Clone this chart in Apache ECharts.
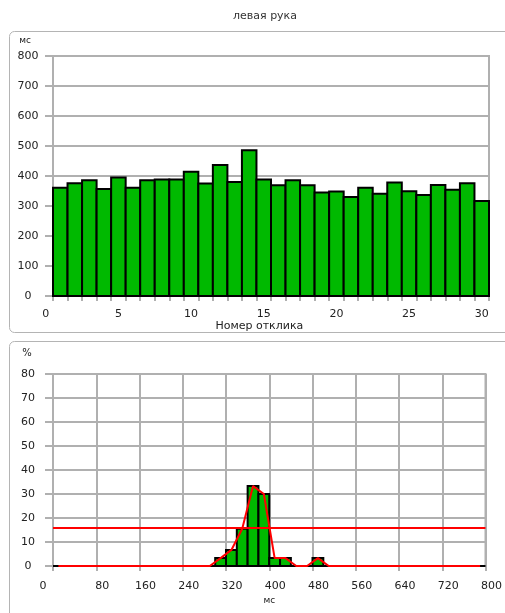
<!DOCTYPE html>
<html>
<head>
<meta charset="utf-8">
<script src="https://cdn.jsdelivr.net/npm/echarts@6/dist/echarts.min.js"></script>
<style>
html, body { margin: 0; padding: 0; background: #fff; }
#main { width: 505px; height: 613px; }
</style>
</head>
<body>
<div id="main"></div>
<script>
// номер отклика -> время реакции, мс
const responseNo = [1, 2, 3, 4, 5, 6, 7, 8, 9, 10, 11, 12, 13, 14, 15,
  16, 17, 18, 19, 20, 21, 22, 23, 24, 25, 26, 27, 28, 29, 30];
const reactionMs = [361, 376, 386, 357, 395, 361, 386, 388, 388, 414, 375, 437, 380, 486, 388,
  369, 386, 369, 345, 348, 330, 361, 341, 378, 349, 337, 370, 354, 376, 317];

// гистограмма: начало интервала (мс), ширина 20 мс, доля откликов (%)
const binStart = [0, 20, 40, 60, 80, 100, 120, 140, 160, 180, 200, 220, 240, 260, 280,
  300, 320, 340, 360, 380, 400, 420, 440, 460, 480, 500, 520, 540, 560, 580,
  600, 620, 640, 660, 680, 700, 720, 740, 760, 780];
const binPercent = [0, 0, 0, 0, 0, 0, 0, 0, 0, 0, 0, 0, 0, 0, 0,
  3.3, 6.7, 15.5, 33.3, 30, 3.3, 3.3, 0, 0, 3.3, 0, 0, 0, 0, 0,
  0, 0, 0, 0, 0, 0, 0, 0, 0, 0];
const binWidth = 20;
const halfMax = 16;

const green = '#00b900';
const gridGray = '#b0b0b0';
const font = 'DejaVu Sans';

let chart = echarts.init(document.getElementById('main'), null, { renderer: 'canvas' });

function barItem(params, api) {
  let p0 = api.coord([api.value(0) - 0.5, api.value(1)]);
  let p1 = api.coord([api.value(0) + 0.5, 0]);
  return {
    type: 'rect',
    shape: { x: p0[0], y: p0[1], width: p1[0] - p0[0], height: p1[1] - p0[1] },
    style: { fill: green, stroke: '#000', lineWidth: 2 }
  };
}

function histItem(params, api) {
  let p0 = api.coord([api.value(0), api.value(2)]);
  let p1 = api.coord([api.value(1), 0]);
  return {
    type: 'rect',
    shape: { x: p0[0], y: p0[1], width: p1[0] - p0[0], height: p1[1] - p0[1] },
    style: { fill: green, stroke: '#000', lineWidth: 2 }
  };
}

const labelStyle = { color: '#222', fontFamily: font, fontSize: 11 };

let option = {
  animation: false,
  textStyle: { fontFamily: font },
  title: {
    text: 'левая рука',
    left: 260,
    top: 6,
    textAlign: 'center',
    textStyle: { fontFamily: font, fontSize: 11, fontWeight: 'normal', color: '#333' }
  },
  graphic: [
    { type: 'rect', shape: { x: 9.5, y: 31.5, width: 520, height: 301, r: 5 },
      style: { fill: 'none', stroke: '#b4b4b4', lineWidth: 1 }, z: -1 },
    { type: 'rect', shape: { x: 9.5, y: 341.5, width: 520, height: 300, r: 5 },
      style: { fill: 'none', stroke: '#b4b4b4', lineWidth: 1 }, z: -1 }
  ],
  grid: [
    { left: 53, top: 56, width: 436, height: 240, show: true, borderColor: gridGray, borderWidth: 2 },
    { left: 45.73, top: 56, width: 443.27, height: 240 },
    { left: 53, top: 374, width: 436, height: 192, show: true, borderColor: gridGray, borderWidth: 2 }
  ],
  xAxis: [
    {
      gridIndex: 0, type: 'value', min: 0.5, max: 30.5, interval: 1,
      axisLine: { show: true, onZero: false, lineStyle: { color: gridGray, width: 2 } },
      axisTick: { show: true, length: 5, lineStyle: { color: gridGray, width: 2 } },
      axisLabel: { show: false },
      splitLine: { show: false }
    },
    {
      gridIndex: 1, type: 'value', min: 0, max: 30.5, interval: 5,
      axisLine: { show: false }, axisTick: { show: false }, splitLine: { show: false },
      axisLabel: Object.assign({ margin: 13, formatter: v => (v % 5 === 0 ? String(v) : '') }, labelStyle),
      name: 'Номер отклика', nameLocation: 'middle', nameGap: 24,
      nameTextStyle: Object.assign({ padding: [0, 16, 0, 0] }, labelStyle)
    },
    {
      gridIndex: 2, type: 'value', min: 0, max: 800, interval: 80,
      axisLine: { show: true, lineStyle: { color: gridGray, width: 2 } },
      axisTick: { show: true, length: 5, lineStyle: { color: gridGray, width: 2 } },
      splitLine: { show: true, lineStyle: { color: gridGray, width: 2 } },
      axisLabel: Object.assign({
        margin: 15,
        formatter: v => (v === 0 ? '{z|0}' : '{n|' + v + '}'),
        rich: {
          z: { padding: [0, 20, 0, 0], color: '#222', fontFamily: font, fontSize: 11 },
          n: { padding: [0, 0, 0, 12], color: '#222', fontFamily: font, fontSize: 11 }
        }
      }, labelStyle),
      name: 'мс', nameLocation: 'middle', nameGap: 30,
      nameTextStyle: { color: '#222', fontFamily: font, fontSize: 9 }
    }
  ],
  yAxis: [
    {
      gridIndex: 0, type: 'value', min: 0, max: 800, interval: 100,
      axisLine: { show: true, lineStyle: { color: gridGray, width: 2 } },
      axisTick: { show: true, length: 8, lineStyle: { color: gridGray, width: 2 } },
      splitLine: { show: true, lineStyle: { color: gridGray, width: 2 } },
      axisLabel: Object.assign({ align: 'center', margin: 25 }, labelStyle),
      name: 'мс', nameLocation: 'end', nameGap: 11,
      nameTextStyle: { color: '#222', fontFamily: font, fontSize: 9, align: 'center', padding: [0, 56, 0, 0] }
    },
    { gridIndex: 1, type: 'value', min: 0, max: 1, show: false },
    {
      gridIndex: 2, type: 'value', min: 0, max: 80, interval: 10,
      axisLine: { show: true, lineStyle: { color: gridGray, width: 2 } },
      axisTick: { show: true, length: 8, lineStyle: { color: gridGray, width: 2 } },
      splitLine: { show: true, lineStyle: { color: gridGray, width: 2 } },
      axisLabel: Object.assign({ align: 'center', margin: 25 }, labelStyle),
      name: '%', nameLocation: 'end', nameGap: 16,
      nameTextStyle: { color: '#222', fontFamily: font, fontSize: 10, align: 'center', padding: [0, 52, 0, 0] }
    }
  ],
  series: [
    {
      type: 'custom',
      xAxisIndex: 0, yAxisIndex: 0,
      renderItem: barItem,
      encode: { x: 0, y: 1 },
      data: responseNo.map((n, i) => [n, reactionMs[i]]),
      z: 3
    },
    {
      type: 'custom',
      xAxisIndex: 2, yAxisIndex: 2,
      renderItem: histItem,
      encode: { x: [0, 1], y: 2 },
      data: binStart.map((s, i) => [s, s + binWidth, binPercent[i]]),
      z: 3
    },
    {
      type: 'line',
      xAxisIndex: 2, yAxisIndex: 2,
      data: binStart.map((s, i) => [s + binWidth / 2, binPercent[i]]),
      showSymbol: false,
      smooth: false,
      lineStyle: { color: '#ff0000', width: 2 },
      z: 5,
      markLine: {
        silent: true,
        symbol: 'none',
        label: { show: false },
        lineStyle: { color: '#ff0000', width: 2, type: 'solid' },
        data: [{ yAxis: halfMax }]
      }
    }
  ]
};

chart.setOption(option);
</script>
</body>
</html>
